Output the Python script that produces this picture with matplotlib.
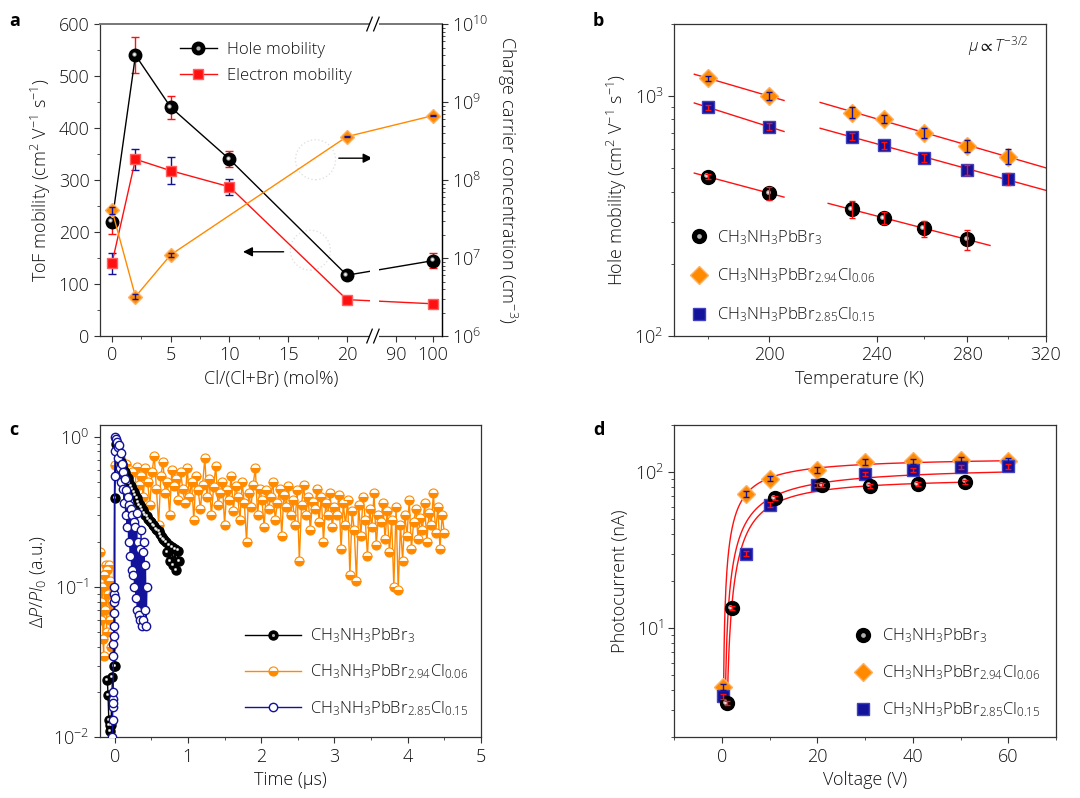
import numpy as np
import matplotlib
matplotlib.use('Agg')
import matplotlib.pyplot as plt
from matplotlib.patches import Rectangle, Ellipse
from matplotlib import ticker
import matplotlib.transforms as mtrans

plt.rcParams['font.family'] = ['Open Sans', 'DejaVu Sans']
plt.rcParams['font.weight'] = 'light'
plt.rcParams['axes.labelweight'] = 'light'
plt.rcParams['font.size'] = 13
plt.rcParams['mathtext.fontset'] = 'custom'
plt.rcParams['mathtext.rm'] = 'Open Sans:light'
plt.rcParams['mathtext.it'] = 'Open Sans:italic:light'
plt.rcParams['mathtext.default'] = 'regular'
plt.rcParams['axes.linewidth'] = 0.9
plt.rcParams['axes.edgecolor'] = '#333333'
plt.rcParams['xtick.major.size'] = 4
plt.rcParams['ytick.major.size'] = 4
plt.rcParams['xtick.minor.size'] = 2.5
plt.rcParams['ytick.minor.size'] = 2.5
plt.rcParams['xtick.color'] = '#333333'
plt.rcParams['ytick.color'] = '#333333'
plt.rcParams['xtick.labelcolor'] = '#111111'
plt.rcParams['ytick.labelcolor'] = '#111111'
plt.rcParams['text.color'] = '#111111'
plt.rcParams['axes.labelcolor'] = '#111111'

ORANGE = '#ff8a00'
NAVY = '#12129a'
RED = '#ff1010'
FS_LEG = 12
FS_TICK = 13

# ---- panel a : composition dependence
cl_pct = [0, 2, 5, 10, 20, 100]
hole_mob = [220, 540, 440, 340, 117, 145]
hole_err = [24, 35, 22, 15, 8, 14]
elec_mob = [140, 340, 318, 287, 70, 62]
elec_err = [20, 20, 26, 15, 6, 5]
carrier_conc = [4.1e7, 3.2e6, 1.1e7, 3.6e8, 6.7e8]
conc_cl = [0, 2, 5, 20, 100]
conc_err = [0.1, 0.08, 0.06, 0.01, 0.01]
a_ticks = [0, 5, 10, 15, 20, 90, 100]

# ---- panel b : temperature dependence
temp_k = [180, 200, 230, 243, 260, 280, 300]
mu_br3 = [462, 394, 338, 310, 281, 253]
temp_br3 = [180, 200, 230, 243, 260, 280]
mu_cl006 = [1190, 1000, 854, 802, 705, 621, 560]
mu_cl015 = [900, 745, 679, 625, 553, 493, 453]
err_br3 = [12, 25, 28, 18, 22, 25]
err_cl006 = [30, 40, 45, 30, 35, 35, 40]
err_cl015 = [20, 25, 25, 20, 20, 25, 25]
seg_low = (176, 205)
seg_high = (218, 320)
seg_high_br3 = (221, 291)

# ---- panel c : photoconductivity decay
t_br3 = [-0.10, -0.09, -0.08, -0.07, -0.06, -0.05, -0.03, -0.01, 0.0, 0.0,
         0.02, 0.04, 0.06, 0.08, 0.10, 0.12, 0.14, 0.16, 0.18, 0.20,
         0.22, 0.24, 0.26, 0.28, 0.30, 0.32, 0.34, 0.36, 0.38, 0.40,
         0.42, 0.44, 0.46, 0.48, 0.50, 0.52, 0.54, 0.56, 0.58, 0.60,
         0.62, 0.64, 0.66, 0.68, 0.70, 0.72, 0.74, 0.76, 0.78, 0.80,
         0.82, 0.84, 0.86, 0.88]
y_br3 = [0.024, 0.019, 0.013, 0.012, 0.011, 0.012, 0.025, 0.03, 0.03, 0.39,
         0.90, 0.80, 0.74, 0.68, 0.66, 0.61, 0.58, 0.55, 0.53, 0.49,
         0.47, 0.45, 0.43, 0.41, 0.39, 0.37, 0.35, 0.34, 0.325, 0.31,
         0.30, 0.295, 0.285, 0.275, 0.27, 0.26, 0.255, 0.245, 0.24, 0.235,
         0.225, 0.215, 0.21, 0.205, 0.20, 0.17, 0.19, 0.15, 0.185, 0.14,
         0.18, 0.13, 0.175, 0.15]

t_cl015 = [-0.03, -0.028, -0.026, -0.024, -0.022, -0.02, -0.018, -0.016, -0.014,
           -0.012, -0.01, -0.008, -0.006, -0.004, -0.002, 0.0, 0.005,
           0.01, 0.02, 0.03, 0.04, 0.05, 0.06, 0.07, 0.08, 0.09, 0.10,
           0.11, 0.12, 0.13, 0.14, 0.15, 0.16, 0.17, 0.18, 0.19, 0.20,
           0.21, 0.22, 0.23, 0.24, 0.25, 0.26, 0.27, 0.28, 0.29, 0.30,
           0.31, 0.32, 0.33, 0.34, 0.35, 0.36, 0.37, 0.38, 0.39, 0.40,
           0.41, 0.42, 0.43, 0.44]
y_cl015 = [0.010, 0.013, 0.016, 0.018, 0.020, 0.017, 0.035, 0.042, 0.047,
           0.055, 0.067, 0.08, 0.09, 0.10, 0.085, 0.55, 0.80,
           1.0, 0.97, 0.92, 0.85, 0.72, 0.88, 0.62, 0.78, 0.50, 0.66,
           0.45, 0.58, 0.36, 0.52, 0.30, 0.44, 0.25, 0.40, 0.20, 0.35,
           0.16, 0.33, 0.13, 0.30, 0.12, 0.27, 0.10, 0.25, 0.085, 0.31,
           0.07, 0.20, 0.065, 0.18, 0.06, 0.24, 0.055, 0.17, 0.06, 0.20,
           0.07, 0.14, 0.055, 0.10]

t_cl006_pre = [-0.20, -0.19, -0.18, -0.17, -0.16, -0.15, -0.14, -0.13, -0.12,
               -0.11, -0.10, -0.09, -0.08, -0.07, -0.06, -0.05, -0.04,
               -0.03, -0.02, 0.0]
y_cl006_pre = [0.17, 0.08, 0.06, 0.10, 0.045, 0.035, 0.12, 0.07, 0.14,
               0.05, 0.13, 0.09, 0.14, 0.06, 0.11, 0.04, 0.08,
               0.05, 0.09, 0.65]
cl006_step = 0.03
y_cl006 = [0.80, 0.62, 0.70, 0.52, 0.66, 0.45, 0.60, 0.58, 0.42, 0.63,
           0.48, 0.55, 0.40, 0.62, 0.50, 0.35, 0.58, 0.75, 0.45, 0.26,
           0.55, 0.68, 0.42, 0.50, 0.30, 0.60, 0.47, 0.52, 0.38, 0.58,
           0.45, 0.36, 0.62, 0.40, 0.50, 0.28, 0.55, 0.44, 0.33, 0.48,
           0.72, 0.40, 0.52, 0.30, 0.46, 0.64, 0.35, 0.42, 0.50, 0.26,
           0.44, 0.38, 0.55, 0.32, 0.47, 0.40, 0.28, 0.50, 0.36, 0.20,
           0.42, 0.34, 0.48, 0.62, 0.30, 0.45, 0.38, 0.25, 0.44, 0.33,
           0.40, 0.50, 0.28, 0.36, 0.45, 0.22, 0.41, 0.34, 0.47, 0.30,
           0.38, 0.26, 0.44, 0.15, 0.35, 0.48, 0.30, 0.40, 0.24, 0.37,
           0.33, 0.45, 0.27, 0.40, 0.20, 0.36, 0.30, 0.42, 0.25, 0.34,
           0.30, 0.41, 0.18, 0.36, 0.26, 0.38, 0.12, 0.32, 0.24, 0.11,
           0.35, 0.22, 0.40, 0.28, 0.16, 0.33, 0.25, 0.42, 0.19, 0.30,
           0.27, 0.36, 0.21, 0.32, 0.17, 0.28, 0.10, 0.34, 0.095, 0.26,
           0.15, 0.30, 0.22, 0.38, 0.18, 0.27, 0.33, 0.21, 0.29, 0.24,
           0.36, 0.20, 0.31, 0.26, 0.42, 0.23, 0.34, 0.18, 0.30, 0.23]

# ---- panel d : photocurrent vs voltage
v_br3 = [1, 2, 11, 21, 31, 41, 51]
i_br3 = [3.3, 13.4, 67.7, 82, 81.6, 83.3, 86.7]
v_cl006 = [0.3, 5, 10, 20, 30, 40, 50, 60]
i_cl006 = [4.2, 72.3, 90.6, 103, 116, 117, 120, 118]
v_cl015 = [0.2, 5, 10, 20, 30, 40, 50, 60]
i_cl015 = [3.65, 29.9, 61.7, 82.6, 97, 103, 107.7, 108.6]
# saturating fits: a * x^n / (x^n + k^n), x = V - v0
fit_br3 = dict(a=92, k=5.46, n=1.2, v0=0.75, vmax=51)
fit_cl006 = dict(a=125, k=3.55, n=1.0, v0=0.2, vmax=60)
fit_cl015 = dict(a=110, k=5.96, n=1.0, v0=0.5, vmax=60)

lbl_br3 = r'CH$_3$NH$_3$PbBr$_3$'
lbl_cl006 = r'CH$_3$NH$_3$PbBr$_{2.94}$Cl$_{0.06}$'
lbl_cl015 = r'CH$_3$NH$_3$PbBr$_{2.85}$Cl$_{0.15}$'

fig = plt.figure(figsize=(10.8, 7.98), dpi=100)


def sphere(ax, x, y, ms, line=False, **kw):
    # black ball with a small glossy highlight up and left
    ls = '-' if line else 'none'
    h1, = ax.plot(x, y, marker='o', ls=ls, color='black', lw=1,
                  ms=ms, mfc='black', mec='black', **kw)
    off = mtrans.offset_copy(ax.transData, fig=fig, x=-ms * 0.12,
                             y=ms * 0.12, units='points')
    h2, = ax.plot(x, y, marker='o', ls='none', ms=ms * 0.34,
                  mfc='#b0b0b0', mec='none', transform=off, **kw)
    ax.plot(x, y, marker='o', ls='none', ms=ms * 0.16,
            mfc='white', mec='none', transform=off, **kw)
    return (h1, h2)


def brk(x):
    x = np.asarray(x, float)
    return np.where(x <= 20, x, 24.19 + (x - 90) * 0.315)


ax_a = fig.add_axes([0.0926, 0.5789, 0.3167, 0.391])
ax_b = fig.add_axes([0.624, 0.5789, 0.3444, 0.391])
ax_c = fig.add_axes([0.0926, 0.0761, 0.3528, 0.3914])
ax_d = fig.add_axes([0.6244, 0.0761, 0.3534, 0.3914])

# ================= a =================
xa = brk(cl_pct)
ax_a.set_xlim(-1.02, 28.1)
ax_a.set_ylim(0, 600)
ax_a.errorbar(xa, hole_mob, yerr=hole_err, fmt='none', ecolor=RED,
              elinewidth=1, capsize=3, zorder=3)
ax_a.errorbar(xa, elec_mob, yerr=elec_err, fmt='none', ecolor=NAVY,
              elinewidth=1, capsize=3, zorder=3)
h_hole = sphere(ax_a, xa, hole_mob, 9, line=True, zorder=4)
h_elec, = ax_a.plot(xa, elec_mob, '-s', color=RED, lw=1, ms=7,
                    mfc=RED, mec='#ff6060', zorder=4)
ax_a.set_xticks(brk(a_ticks))
ax_a.set_xticklabels([str(t) for t in a_ticks])
ax_a.set_xticks(list(brk([2.5, 7.5, 12.5, 17.5, 95])), minor=True)
ax_a.yaxis.set_major_locator(ticker.MultipleLocator(100))
ax_a.yaxis.set_minor_locator(ticker.MultipleLocator(50))
ax_a.set_xlabel('Cl/(Cl+Br) (mol%)')
ax_a.set_ylabel(r'ToF mobility (cm$^2$ V$^{-1}$ s$^{-1}$)')
ax_a.spines['top'].set_color('#777777')
ax_a.spines['top'].set_linewidth(1.4)

ax_a2 = ax_a.twinx()
ax_a2.set_yscale('log')
ax_a2.set_ylim(1e6, 1e10)
cc = np.array(carrier_conc)
ce = np.array(conc_err)
ax_a2.errorbar(brk(conc_cl), cc, yerr=[cc * ce, cc * ce], fmt='none',
               ecolor=NAVY, elinewidth=1, capsize=2.5, zorder=4)
ax_a2.plot(brk(conc_cl), cc, '-D', color=ORANGE, lw=1, ms=7.5,
           mfc=ORANGE, mec='#ffb060', zorder=3)
ax_a2.set_ylabel('Charge carrier concentration (cm$^{-3}$)', rotation=270,
                 labelpad=22)
for s in ['top', 'bottom', 'left']:
    ax_a2.spines[s].set_visible(False)
ax_a2.spines['right'].set_color('black')

# axis break
bx0, bx1 = 0.788, 0.815
ax_a2.add_patch(Rectangle((bx0, -0.02), bx1 - bx0, 1.04, transform=ax_a2.transAxes,
                          facecolor='white', edgecolor='none', zorder=2.6,
                          clip_on=False))
for yb in (0, 1):
    for xb in (bx0, bx0 + 0.02):
        ax_a2.plot([xb - 0.008, xb + 0.008], [yb - 0.022, yb + 0.022],
                   transform=ax_a2.transAxes, color='black', lw=0.9,
                   clip_on=False, zorder=5)

ax_a.legend([h_hole, h_elec], ['Hole mobility', 'Electron mobility'],
            loc='upper left', bbox_to_anchor=(0.19, 0.99), frameon=False,
            handlelength=2.2, handletextpad=0.6, labelspacing=0.6,
            fontsize=FS_LEG)
ax_a.annotate('', xy=(0.805, 0.57), xytext=(0.69, 0.57),
              xycoords='axes fraction',
              arrowprops=dict(arrowstyle='-|>', color='black', lw=1,
                              mutation_scale=14))
ax_a.annotate('', xy=(0.41, 0.27), xytext=(0.545, 0.27),
              xycoords='axes fraction',
              arrowprops=dict(arrowstyle='-|>', color='black', lw=1,
                              mutation_scale=14))
for cx, cy in [(0.63, 0.565), (0.615, 0.275)]:
    ax_a.add_patch(Ellipse((cx, cy), 40 / 342, 40 / 312, transform=ax_a.transAxes,
                           fill=False, edgecolor='#e2e2e2', ls=':', lw=1))

# ================= b =================
ax_b.set_xscale('log')
ax_b.set_yscale('log')
ax_b.set_xlim(170, 320)
ax_b.set_ylim(100, 2000)
tb = np.array(temp_k)
ax_b.errorbar(tb, mu_cl006, yerr=err_cl006, fmt='none', ecolor=NAVY,
              elinewidth=1, capsize=2.5, zorder=4)
ax_b.errorbar(tb, mu_cl015, yerr=err_cl015, fmt='none', ecolor=RED,
              elinewidth=1, capsize=2.5, zorder=4)
ax_b.errorbar(temp_br3, mu_br3, yerr=err_br3, fmt='none', ecolor=RED,
              elinewidth=1, capsize=2.5, zorder=5)
hb_cl006, = ax_b.plot(tb, mu_cl006, 'D', color=ORANGE, ms=9, mec='#ffb060',
                      zorder=3)
hb_cl015, = ax_b.plot(tb, mu_cl015, 's', color=NAVY, ms=8, mec='#4040c0',
                      zorder=3)
hb_br3 = sphere(ax_b, temp_br3, mu_br3, 10, zorder=3)


def fit_segment(ax, t, mu, rng):
    # power-law fit on one temperature range
    t = np.array(t, float)
    mu = np.array(mu, float)
    m = (t >= rng[0]) & (t <= rng[1])
    p = np.polyfit(np.log10(t[m]), np.log10(mu[m]), 1)
    tt = np.linspace(rng[0], rng[1], 50)
    ax.plot(tt, 10 ** np.polyval(p, np.log10(tt)), color=RED, lw=1, zorder=2)


for mu in (mu_cl006, mu_cl015):
    fit_segment(ax_b, temp_k, mu, seg_low)
    fit_segment(ax_b, temp_k, mu, seg_high)
fit_segment(ax_b, temp_br3, mu_br3, seg_low)
fit_segment(ax_b, temp_br3, mu_br3, seg_high_br3)

ax_b.xaxis.set_major_locator(ticker.FixedLocator([200, 240, 280, 320]))
ax_b.xaxis.set_major_formatter(ticker.FixedFormatter(['200', '240', '280', '320']))
ax_b.xaxis.set_minor_locator(ticker.FixedLocator([180, 260, 300]))
ax_b.xaxis.set_minor_formatter(ticker.NullFormatter())
ax_b.set_xlabel('Temperature (K)')
ax_b.set_ylabel(r'Hole mobility (cm$^2$ V$^{-1}$ s$^{-1}$)')
ax_b.text(0.955, 0.93, r'$\mathit{\mu} \propto \mathit{T}^{-3/2}$',
          transform=ax_b.transAxes, ha='right', va='center', fontsize=12)
ax_b.legend([hb_br3, hb_cl006, hb_cl015], [lbl_br3, lbl_cl006, lbl_cl015],
            loc='lower left', bbox_to_anchor=(0.0, -0.01), frameon=False,
            handlelength=1.2, handletextpad=0.5, labelspacing=1.2,
            fontsize=FS_LEG)

# ================= c =================
ax_c.set_yscale('log')
ax_c.set_xlim(-0.2, 5)
ax_c.set_ylim(0.01, 1.2)
t_cl006 = np.concatenate([t_cl006_pre,
                          cl006_step * np.arange(1, len(y_cl006) + 1)])
y_cl006_all = np.concatenate([y_cl006_pre, y_cl006])
hc_cl006, = ax_c.plot(t_cl006, y_cl006_all, '-o', color=ORANGE, lw=1, ms=6.5,
                      fillstyle='bottom', mfc=ORANGE, mfcalt='white',
                      mec=ORANGE, mew=0.8, zorder=2)
hc_br3 = sphere(ax_c, t_br3, y_br3, 6.5, line=True, zorder=3)
hc_cl015, = ax_c.plot(t_cl015, y_cl015, '-o', color=NAVY, lw=1, ms=6,
                      mfc='white', mec=NAVY, mew=1, zorder=4)
ax_c.xaxis.set_major_locator(ticker.MultipleLocator(1))
ax_c.xaxis.set_minor_locator(ticker.MultipleLocator(0.5))
ax_c.set_xlabel('Time (\u03bcs)')
ax_c.set_ylabel(r'$\Delta\mathit{P}/\mathit{PI}_0$ (a.u.)')
ax_c.legend([hc_br3, hc_cl006, hc_cl015], [lbl_br3, lbl_cl006, lbl_cl015],
            loc='lower left', bbox_to_anchor=(0.34, 0.015), frameon=False,
            handlelength=3.4, handletextpad=0.5, labelspacing=1.05,
            fontsize=FS_LEG)

# ================= d =================
ax_d.set_yscale('log')
ax_d.set_xlim(-10, 70)
ax_d.set_ylim(2, 200)


def sat_curve(ax, p):
    v = np.linspace(p['v0'] + 0.01, p['vmax'], 600)
    x = v - p['v0']
    f = p['a'] * x ** p['n'] / (x ** p['n'] + p['k'] ** p['n'])
    m = f >= 3.2
    ax.plot(v[m], f[m], color=RED, lw=1, zorder=2)


for p in (fit_br3, fit_cl006, fit_cl015):
    sat_curve(ax_d, p)
i6 = np.array(i_cl006)
i15 = np.array(i_cl015)
i3 = np.array(i_br3)
ax_d.errorbar(v_cl006, i6, yerr=0.04 * i6, fmt='none', ecolor=NAVY,
              elinewidth=1, capsize=2.5, zorder=5)
ax_d.errorbar(v_cl015, i15, yerr=0.035 * i15, fmt='none', ecolor=RED,
              elinewidth=1, capsize=2.5, zorder=5)
ax_d.errorbar(v_br3, i3, yerr=0.03 * i3, fmt='none', ecolor=RED,
              elinewidth=1, capsize=2.5, zorder=5)
hd_cl006, = ax_d.plot(v_cl006, i6, 'D', color=ORANGE, ms=9, mec='#ffb060',
                      zorder=3)
hd_cl015, = ax_d.plot(v_cl015, i15, 's', color=NAVY, ms=8, mec='#4040c0',
                      zorder=3)
hd_br3 = sphere(ax_d, v_br3, i_br3, 10, zorder=4)
ax_d.xaxis.set_major_locator(ticker.MultipleLocator(20))
ax_d.xaxis.set_minor_locator(ticker.MultipleLocator(10))
ax_d.set_xlabel('Voltage (V)')
ax_d.set_ylabel('Photocurrent (nA)')
ax_d.legend([hd_br3, hd_cl006, hd_cl015], [lbl_br3, lbl_cl006, lbl_cl015],
            loc='lower left', bbox_to_anchor=(0.43, 0.01), frameon=False,
            handlelength=1.2, handletextpad=0.5, labelspacing=1.1,
            fontsize=FS_LEG)

for ax in (ax_a, ax_b, ax_c, ax_d):
    ax.tick_params(which='both', direction='out', labelsize=FS_TICK)
ax_a2.tick_params(which='both', direction='out', labelsize=FS_TICK)
ax_b.tick_params(which='both', top=False, right=False)

for lt, x, y in [('a', 0.009, 0.985), ('b', 0.549, 0.985),
                 ('c', 0.009, 0.472), ('d', 0.549, 0.472)]:
    fig.text(x, y, lt, fontsize=13, fontweight='bold', va='top', color='black')

fig.savefig('out.png', dpi=100)
